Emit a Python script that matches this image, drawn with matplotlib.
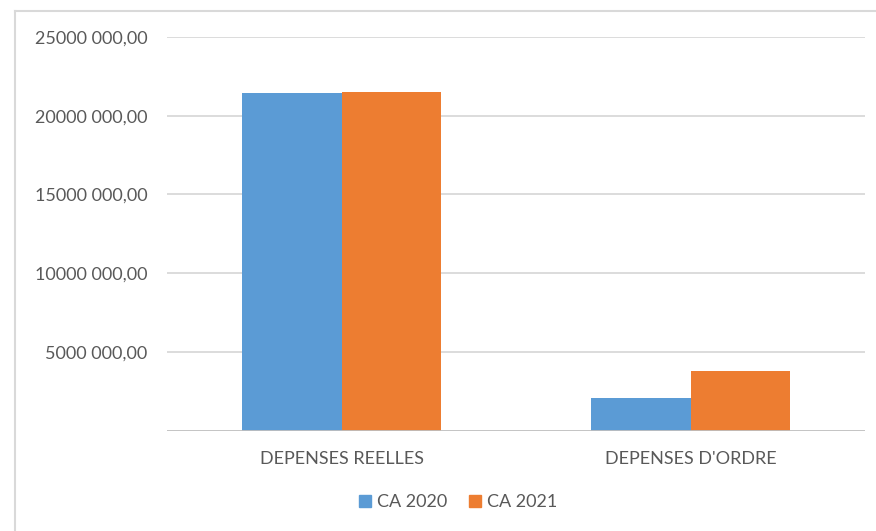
import matplotlib
matplotlib.use("Agg")
import matplotlib.pyplot as plt
from matplotlib.lines import Line2D
from matplotlib.patches import Patch
import numpy as np

categories = ["DEPENSES REELLES", "DEPENSES D'ORDRE"]
series_names = ["CA 2020", "CA 2021"]
ca_2020 = [21420000, 2080000]
ca_2021 = [21490000, 3800000]
y_ticks = [5000000, 10000000, 15000000, 20000000, 25000000]

colors = ["#5b9bd5", "#ed7d31"]
text_color = "#595959"
grid_color = "#d9d9d9"

plt.rcParams["font.family"] = ["Lato", "DejaVu Sans"]

W, H = 876, 531
fig = plt.figure(figsize=(W / 100, H / 100), dpi=100)
ax = fig.add_axes([167 / W, 1 - 430.5 / H, (865 - 167) / W, (430.5 - 37) / H])

x = np.arange(len(categories))
bw = 0.2865
ax.bar(x - bw / 2, ca_2020, width=bw, color=colors[0], zorder=3)
ax.bar(x + bw / 2, ca_2021, width=bw, color=colors[1], zorder=3)

ax.set_xlim(-0.5, len(categories) - 0.5)
ax.set_ylim(0, 25000000)
ax.set_yticks(y_ticks)


def label(v):
    # e.g. 25000000 -> "25000 000,00"
    thousands = int(v) // 1000
    rest = int(v) % 1000
    return f"{thousands} {rest:03d},00"


ax.set_yticklabels([label(v) for v in y_ticks])
ax.set_xticks(x)
ax.set_xticklabels(categories)

for v in y_ticks:
    ax.axhline(v, color=grid_color, lw=1.3, zorder=1)
ax.axhline(0, color="#bfbfbf", lw=1.3, zorder=4)

for s in ax.spines.values():
    s.set_visible(False)
ax.tick_params(axis="both", length=0, colors=text_color, labelsize=13)
ax.tick_params(axis="y", pad=14)
ax.tick_params(axis="x", pad=15)

handles = [Patch(color=c) for c in colors]
fig.legend(handles, series_names, loc="center", bbox_to_anchor=(458 / W, 1 - 502 / H),
           ncol=2, frameon=False, fontsize=13, labelcolor=text_color,
           handlelength=0.65, handleheight=0.65, handletextpad=0.35, columnspacing=1.2)

# outer frame edges
fig.add_artist(Line2D([15 / W, 15 / W], [0, 1 - 11 / H], color="#d9d9d9", lw=1.5))
fig.add_artist(Line2D([15 / W, 1], [1 - 11 / H, 1 - 11 / H], color="#d9d9d9", lw=1.5))

fig.savefig("out.png", dpi=100)
